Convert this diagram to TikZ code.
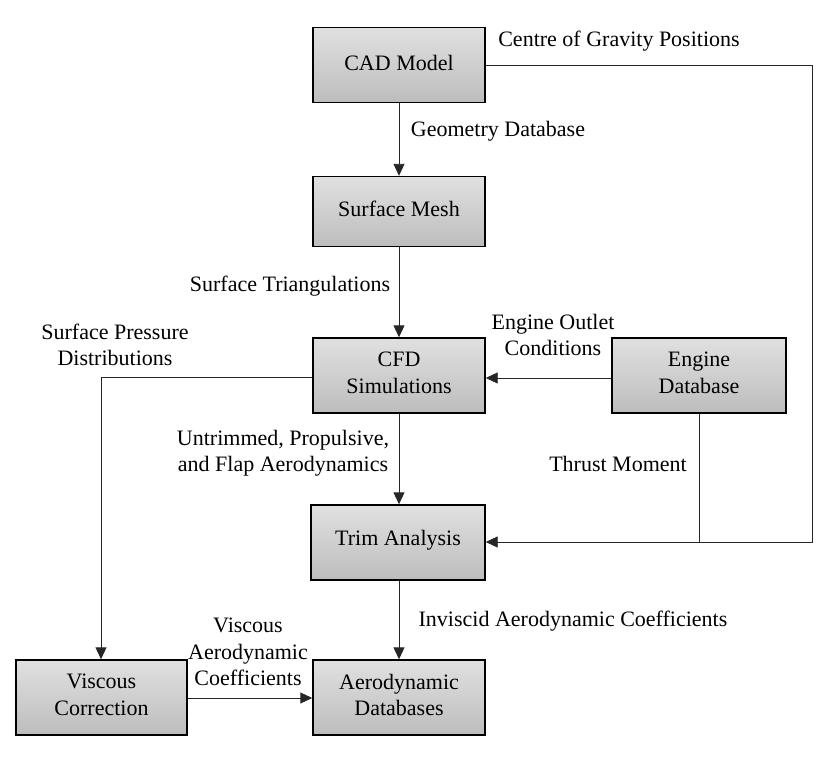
\documentclass[tikz,border=0pt]{standalone}
\usepackage{fontspec}
\setmainfont{Liberation Serif}
\usetikzlibrary{arrows.meta}
\begin{document}
\begin{tikzpicture}[x=1bp,y=-1bp,
  font=\fontsize{22bp}{26.5bp}\selectfont,
  box/.style={draw=black, line width=1.4bp, top color=black!12, bottom color=black!26, minimum width=172bp, minimum height=75bp, inner sep=0pt},
  boxtext/.style={align=center, inner sep=0pt, yshift=2.5bp},
  conn/.style={line width=0.9bp, draw=black!85},
  arr/.style={conn, -{Triangle[length=12bp,width=11bp]}},
  lbl/.style={align=center, inner sep=0pt}]
\useasboundingbox (0,0) rectangle (833,766);
\node[box, label={[boxtext]center:CAD Model}] (cad) at (399,65) {};
\node[box, minimum height=70bp, label={[boxtext]center:Surface Mesh}] (mesh) at (399,211.5) {};
\node[box, label={[boxtext]center:{CFD\\Simulations}}] (cfd) at (399,375.5) {};
\node[box, minimum width=174bp, label={[boxtext]center:{Engine\\Database}}] (eng) at (699,375.5) {};
\node[box, minimum width=174bp, label={[boxtext]center:Trim Analysis}] (trim) at (398,542.5) {};
\node[box, minimum width=171bp, label={[boxtext]center:{Viscous\\Correction}}] (visc) at (101.5,697.5) {};
\node[box, label={[boxtext]center:{Aerodynamic\\Databases}}] (aero) at (399,697.5) {};

\coordinate (r1) at (812,65);
\coordinate (r2) at (812,542);
\coordinate (j) at (699,542);
\coordinate (l1) at (101,377);

\draw[arr] (cad.south -| 399,0) -- (mesh.north -| 399,0);
\draw[arr] (mesh.south -| 399,0) -- (cfd.north -| 399,0);
\draw[arr] (cfd.south -| 399,0) -- (trim.north -| 399,0);
\draw[arr] (trim.south -| 399,0) -- (aero.north -| 399,0);
\draw[arr] (eng.west |- 0,378) -- (cfd.east |- 0,378);
\draw[arr] (cad.east) -- (r1) -- (r2) -- (trim.east |- r2);
\draw[conn] (eng.south) -- (j);
\draw[arr] (cfd.west |- l1) -- (l1) -- (visc.north -| l1);
\draw[arr] (visc.east |- 0,698) -- (aero.west |- 0,698);

\node[lbl] (t1) at (619,41) {Centre of Gravity Positions};
\node[lbl] (t2) at (498,131) {Geometry Database};
\node[lbl] (t3) at (290,286) {Surface Triangulations};
\node[lbl] (t4) at (115,345) {Surface Pressure\\Distributions};
\node[lbl] (t5) at (553,335) {Engine Outlet\\Conditions};
\node[lbl] (t6) at (283,453) {Untrimmed, Propulsive,\\and Flap Aerodynamics};
\node[lbl] (t7) at (618,464) {Thrust Moment};
\node[lbl] (t8) at (573,621) {Inviscid Aerodynamic Coefficients};
\node[lbl] (t9) at (248,652) {Viscous\\Aerodynamic\\Coefficients};
\end{tikzpicture}
\end{document}
